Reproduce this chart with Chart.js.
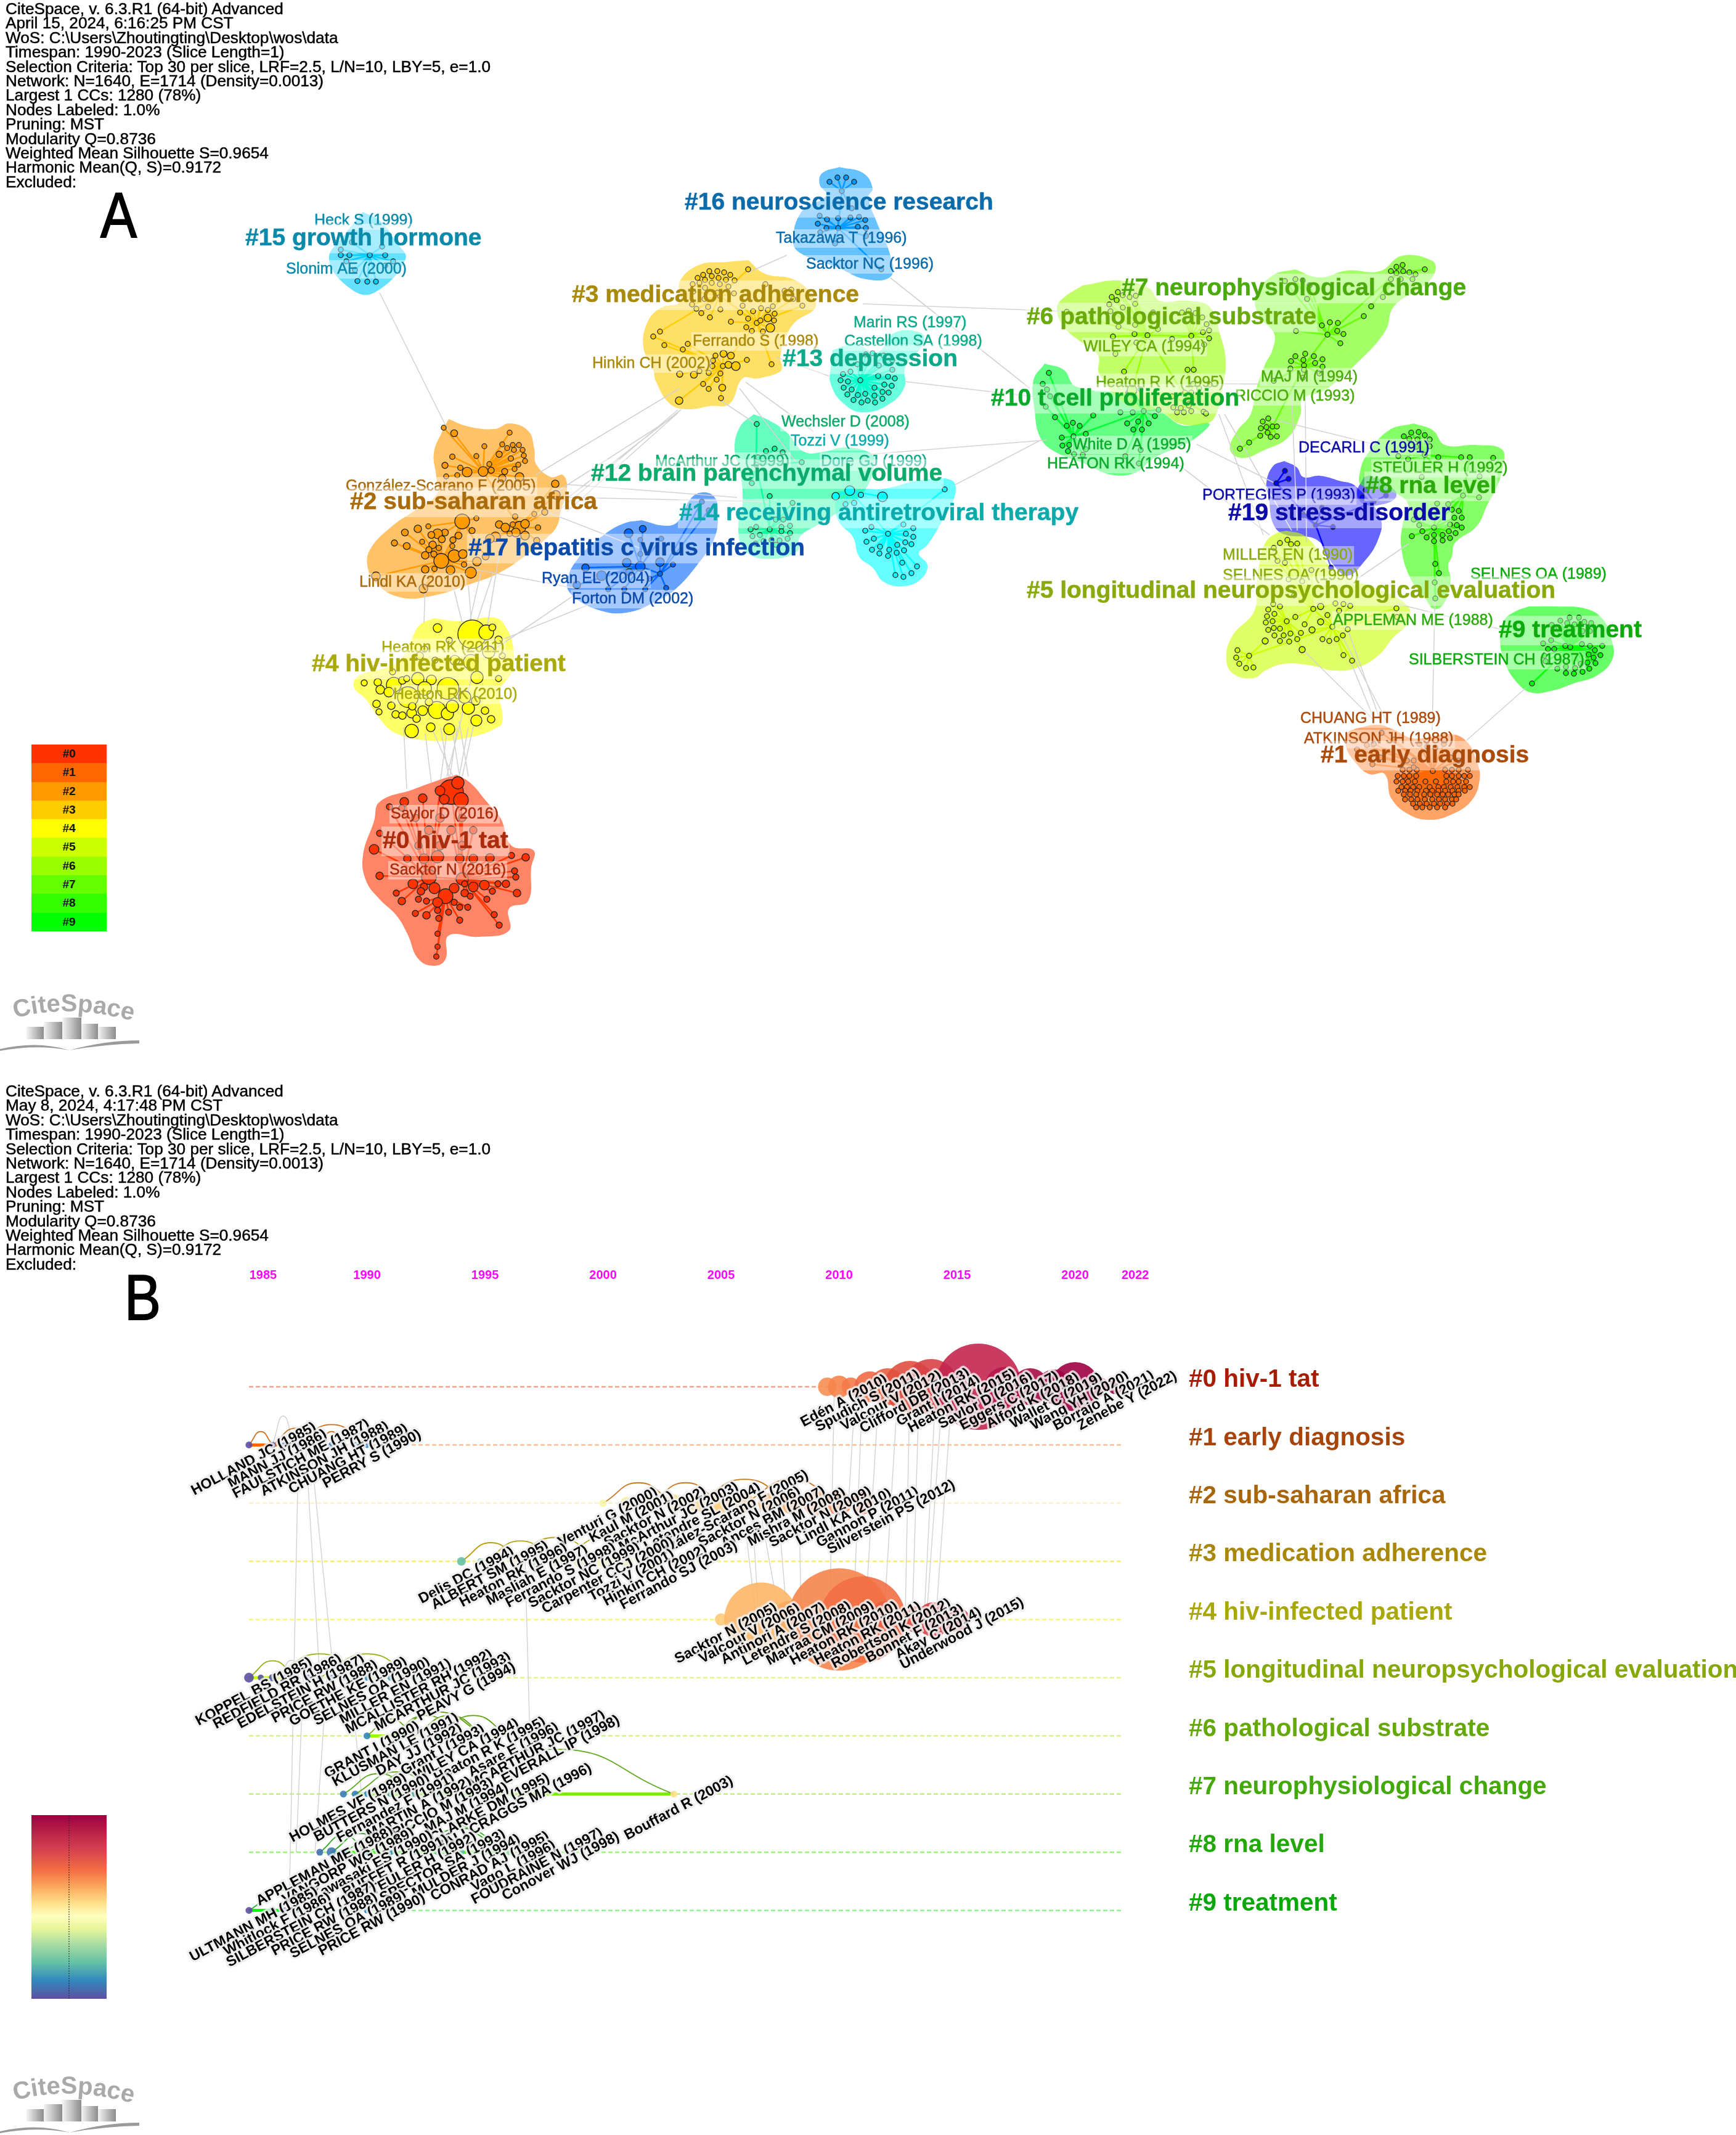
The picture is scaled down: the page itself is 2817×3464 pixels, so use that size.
<!DOCTYPE html>
<html>
<head>
<meta charset="utf-8">
<title>CiteSpace co-citation network and timeline</title>
<script src="https://cdn.jsdelivr.net/npm/chart.js@4/dist/chart.umd.js"></script>
<style>
  html, body { margin: 0; padding: 0; background: #fff; }
  #page { position: relative; width: 2817px; height: 3464px; overflow: hidden; background: #fff; }
  canvas { position: absolute; left: 0; }
  .meta { position: absolute; left: 9px; font: 26.2px/23.4px "Liberation Sans", sans-serif; color: #000; white-space: pre; -webkit-text-stroke: 0.5px #000; }
  .panel { position: absolute; font: 104px "Liberation Sans", sans-serif; color: #000; transform: scaleX(0.85); transform-origin: left top; line-height: 1; -webkit-text-stroke: 2px #000; }
  .legend { position: absolute; left: 51px; top: 1208px; width: 122px; }
  .legend div { height: 30.3px; font: bold 19px/30.3px "Liberation Sans", sans-serif; text-align: center; color: #111; }
  .bar { position: absolute; left: 51px; top: 2945px; width: 122px; height: 298px;
    background: linear-gradient(#9e0142, #d53e4f 18%, #f46d43 30%, #fdae61 40%, #fee08b 48%, #ffffbf 55%, #e6f598 62%, #abdda4 70%, #66c2a5 80%, #3288bd 90%, #5e4fa2); }
  .bar i { position: absolute; left: 60px; top: 0; bottom: 0; border-left: 2px dotted rgba(40,40,40,.55); }
  svg { position: absolute; left: 0; }
</style>
</head>
<body>
<div id="page">
  <canvas id="network" width="2817" height="1750" style="top:0"></canvas>
  <canvas id="timeline" width="2817" height="1419" style="top:2045px"></canvas>
  <div class="panel" style="left:163px;top:297px">A</div>
  <div class="panel" style="left:202px;top:2053px">B</div>
</div>
<script>
const metaLinesA = ['CiteSpace, v. 6.3.R1 (64-bit) Advanced', 'April 15, 2024, 6:16:25 PM CST', 'WoS: C:\\Users\\Zhoutingting\\Desktop\\wos\\data', 'Timespan: 1990-2023 (Slice Length=1)', 'Selection Criteria: Top 30 per slice, LRF=2.5, L/N=10, LBY=5, e=1.0', 'Network: N=1640, E=1714 (Density=0.0013)', 'Largest 1 CCs: 1280 (78%)', 'Nodes Labeled: 1.0%', 'Pruning: MST', 'Modularity Q=0.8736', 'Weighted Mean Silhouette S=0.9654', 'Harmonic Mean(Q, S)=0.9172', 'Excluded:'];
const metaLinesB = metaLinesA.slice();
metaLinesB[1] = 'May 8, 2024, 4:17:48 PM CST';

const legendNames = ['#0', '#1', '#2', '#3', '#4', '#5', '#6', '#7', '#8', '#9'];
const legendColors = ['#ff3300', '#ff6600', '#ff9900', '#ffcc00', '#ffff00', '#ccff00', '#99ff00', '#66ff00', '#33ff00', '#00ff00'];

// ---- Panel A: network layout ([x, y, frequency]) ----
const hull0 = [[741,1257],[763,1270],[790,1301],[812,1327],[830,1372],[866,1380],[862,1408],[857,1462],[826,1474],[826,1510],[777,1520],[728,1518],[723,1556],[705,1567],[679,1556],[661,1515],[643,1485],[616,1459],[594,1429],[589,1388],[607,1332],[616,1301],[670,1281],[714,1265],[741,1257]];
const nodes0 = [[723,1454,23],[696,1423,23],[750,1426,16],[732,1285,64],[743,1270,16],[748,1298,23],[714,1283,10],[721,1297,10],[686,1295,8],[656,1301,8],[632,1309,4],[652,1311,4],[607,1378,10],[616,1352,4],[616,1421,6],[853,1391,6],[830,1388,4],[835,1413,4],[837,1423,4],[839,1449,6],[821,1434,6],[808,1434,4],[799,1446,4],[786,1436,10],[768,1439,10],[754,1434,4],[705,1441,13],[688,1439,6],[670,1434,10],[683,1446,6],[643,1449,4],[652,1462,6],[679,1459,4],[692,1462,4],[710,1464,10],[737,1441,10],[737,1464,4],[754,1449,6],[763,1454,4],[759,1472,4],[790,1459,4],[746,1472,4],[728,1480,4],[710,1477,4],[692,1485,6],[674,1482,4],[712,1490,4],[746,1493,4],[802,1484,4],[810,1501,4],[710,1515,3],[710,1536,3],[708,1552,3],[688,1393,10],[710,1390,16],[746,1393,8],[768,1393,8],[795,1392,8],[661,1393,6],[674,1327,6],[714,1327,8],[750,1327,6],[696,1347,8],[732,1347,8],[768,1347,6],[679,1372,6],[714,1372,8],[750,1372,8]];
const hubs0 = 3;

const hull1 = [[2200,1182],[2236,1176],[2262,1184],[2294,1198],[2352,1191],[2379,1202],[2396,1234],[2401,1265],[2387,1300],[2352,1323],[2321,1330],[2289,1323],[2258,1296],[2247,1256],[2222,1256],[2200,1238],[2184,1211],[2187,1189],[2200,1182]];
const nodes1 = [[2325,1251],[2276,1249],[2287,1249],[2299,1249],[2345,1249],[2356,1249],[2367,1249],[2382,1249],[2268,1259],[2278,1259],[2287,1259],[2298,1259],[2347,1259],[2356,1259],[2367,1259],[2376,1259],[2385,1259],[2266,1268],[2276,1268],[2285,1268],[2296,1268],[2313,1268],[2330,1268],[2347,1268],[2358,1268],[2367,1268],[2379,1268],[2274,1277],[2283,1277],[2293,1277],[2303,1277],[2320,1277],[2334,1277],[2343,1277],[2354,1277],[2365,1277],[2376,1277],[2385,1277],[2269,1283],[2280,1283],[2289,1283],[2300,1283],[2314,1283],[2324,1283],[2334,1283],[2345,1283],[2357,1283],[2367,1283],[2377,1283],[2278,1289],[2288,1289],[2298,1289],[2311,1289],[2321,1289],[2332,1289],[2341,1289],[2350,1289],[2360,1289],[2367,1289],[2280,1297],[2290,1297],[2300,1297],[2312,1297],[2324,1297],[2335,1297],[2345,1297],[2356,1297],[2363,1297],[2293,1304],[2304,1304],[2315,1304],[2327,1304],[2337,1304],[2348,1304],[2357,1304],[2298,1310],[2308,1310],[2320,1310],[2332,1310],[2345,1310],[2303,1207],[2316,1211],[2329,1213],[2343,1207],[2354,1229],[2367,1234],[2294,1245],[2283,1234],[2294,1234],[2202,1216],[2218,1209],[2229,1207],[2242,1189],[2262,1200],[2240,1229],[2227,1240]];
const hubs1 = 1;

const hull2 = [[728,680],[760,692],[803,696],[827,687],[857,699],[867,728],[870,753],[894,774],[914,771],[920,796],[910,828],[904,853],[886,874],[847,906],[807,931],[768,946],[700,967],[649,969],[610,946],[596,917],[602,889],[637,853],[669,831],[708,803],[708,774],[704,735],[718,699],[728,680]];
const nodes2 = [[750,846,23],[716,910,23],[843,856,16],[784,765,10],[720,694],[737,703,5],[827,702],[815,721],[832,722],[842,722],[823,727],[848,730],[850,739],[810,737,4],[834,730],[829,744,3],[852,748],[841,754],[786,724],[734,741,3],[773,740],[722,755,4],[747,759,3],[758,766,10],[794,753],[797,763,4],[819,765,4],[835,761],[724,773],[742,771],[843,774,8],[815,776,6],[901,785,6],[902,803,8],[773,841],[695,854],[678,858,6],[657,864,5],[640,881,4],[660,886,5],[722,864,5],[710,866,10],[700,868,5],[717,875,5],[735,876,4],[744,869,5],[766,861,4],[685,879],[702,884,6],[734,886],[712,889,3],[696,892,4],[690,901,6],[704,899,4],[737,902,16],[751,899,8],[690,924,6],[705,923,3],[731,925,8],[764,929,13],[753,916,3],[810,851,6],[820,856,8],[832,851,3],[852,850,8],[873,856,3],[837,864,8],[827,866,3],[852,869,8],[804,871,10],[871,877,4],[836,838,3],[867,834],[884,831,4],[774,911,8],[788,903,5],[795,874,8],[610,935,8],[687,955,8]];
const hubs2 = 4;

const hull3 = [[1214,422],[1241,444],[1287,453],[1316,476],[1323,499],[1291,522],[1276,545],[1266,581],[1269,600],[1230,614],[1205,614],[1184,655],[1151,659],[1116,664],[1087,655],[1064,618],[1060,600],[1044,563],[1051,522],[1073,499],[1103,490],[1103,457],[1134,430],[1180,425],[1214,422]];
const nodes3 = [[1173,594],[1228,524],[1168,480],[1132,451],[1141,446],[1151,440],[1164,440],[1175,442],[1185,446],[1144,454],[1155,448],[1166,451],[1178,454],[1192,455],[1124,461],[1135,459],[1155,459],[1168,461],[1182,465],[1144,467],[1125,473],[1191,476],[1164,475],[1143,485],[1123,494],[1130,501],[1138,508],[1149,498],[1169,502],[1152,515],[1214,437],[1242,461],[1273,472],[1284,470],[1287,485],[1302,496],[1205,496],[1201,507],[1222,505],[1235,500],[1246,503],[1254,497],[1257,509],[1214,517],[1234,520],[1246,516,6],[1256,520],[1211,531],[1220,537],[1238,538],[1250,532,8],[1186,522],[1060,546],[1071,538],[1078,560],[1108,567],[1116,558],[1161,577],[1174,574,5],[1186,577,5],[1157,585],[1156,594],[1182,592,5],[1194,594,8],[1212,584],[1252,591],[1103,607,4],[1126,608,5],[1135,602],[1150,605],[1169,606],[1163,616],[1141,623],[1150,631],[1172,629,5],[1170,646],[1102,650,6]];
const hubs3 = 3;

const hull4 = [[704,1003],[748,1008],[803,1002],[823,1021],[833,1053],[831,1089],[811,1121],[815,1160],[811,1178],[748,1199],[689,1201],[641,1189],[617,1167],[594,1135],[574,1114],[582,1096],[621,1085],[649,1071],[669,1035],[681,1014],[704,1003]];
const nodes4 = [[766,1029,85],[789,1026,23],[799,1018,5],[710,1019,8],[809,1038,6],[681,1064,6],[706,1071,4],[689,1053,4],[729,1039,4],[793,1058,16],[815,1064,4],[764,1074,23],[738,1071,10],[637,1090,4],[591,1108,4],[613,1107,6],[617,1119,8],[639,1111,23],[653,1104,6],[631,1123,10],[660,1101,4],[678,1101,16],[700,1103,10],[727,1117,50],[774,1099,16],[809,1101,4],[662,1131,45],[689,1117,20],[611,1142,6],[635,1145,6],[615,1155,4],[642,1159,6],[653,1161,6],[668,1157,10],[676,1166,6],[686,1153,10],[709,1152,31],[726,1158,16],[734,1146,16],[760,1149,16],[787,1153,6],[797,1167,6],[773,1169,13],[668,1186,19],[699,1180,8],[729,1183,13],[754,1131,16],[772,1137,8],[669,1146,6],[696,1139,6]];
const hubs4 = 0;

const hull5 = [[2088,861],[2115,868],[2137,890],[2160,921],[2200,943],[2227,952],[2285,984],[2283,1013],[2262,1033],[2236,1064],[2200,1084],[2164,1088],[2129,1080],[2084,1077],[2053,1088],[2035,1100],[2004,1095],[1990,1073],[1999,1033],[2035,992],[2039,948],[2044,912],[2053,881],[2071,865],[2088,861]];
const nodes5 = [[2088,1008],[2131,988],[2162,1017],[2027,1064],[2077,881],[2089,876],[2105,882],[2095,883],[2067,889],[2073,910],[2085,913],[2128,925],[2091,940],[2113,943],[2100,966],[2066,980],[2077,984],[2058,989],[2056,1000],[2068,996],[2054,1010],[2065,1008],[2102,1001],[2117,1013],[2058,1022],[2067,1019],[2077,1020],[2094,1028],[2111,1027],[2068,1031],[2083,1031],[2105,1037],[2077,1040],[2092,1041],[2053,1040,4],[2113,1054,4],[2129,1022,4],[2143,1009,4],[2154,998],[2143,984,4],[2173,991],[2167,979],[2191,983],[2180,980],[2266,987],[2267,1001],[2187,1021],[2179,1031],[2169,1037],[2157,1040],[2146,1037],[2180,1063],[2194,1072],[2008,1055],[2006,1067],[2011,1077],[2022,1084],[2034,1083]];
const hubs5 = 4;

const hull6 = [[1757,463],[1815,455],[1864,467],[1882,488],[1927,488],[1963,498],[1980,543],[1989,587],[1983,633],[1971,677],[1954,688],[1913,687],[1887,670],[1829,657],[1784,607],[1782,577],[1757,557],[1726,530],[1715,500],[1726,483],[1757,463]];
const nodes6 = [[1933,545],[1862,544],[1930,655],[1804,482],[1812,487],[1814,474],[1822,479],[1833,482],[1843,480],[1800,494],[1822,499],[1842,493],[1802,505],[1731,506],[1871,507],[1918,507],[1929,504],[1940,508],[1951,515],[1958,526],[1962,536],[1952,539],[1962,549],[1842,527],[1815,530],[1879,534],[1806,546],[1841,542],[1902,550],[1954,559],[1844,556],[1810,574],[1824,603],[1927,600],[1937,600],[1963,624],[1936,623],[1946,630],[1923,637],[1933,637],[1902,643],[1904,661],[1916,662],[1929,658],[1910,669],[1921,669],[1933,667],[1953,668],[1957,671],[1837,633,10]];
const hubs6 = 3;

const hull7 = [[2101,437],[2141,450],[2186,439],[2239,440],[2275,415],[2324,423],[2329,440],[2311,463],[2262,497],[2248,537],[2204,587],[2150,633],[2114,647],[2110,673],[2090,710],[2052,730],[2016,743],[1996,730],[2007,700],[2029,673],[2038,633],[2052,593],[2065,567],[2067,540],[2043,513],[2038,480],[2065,447],[2101,437]];
const nodes7 = [[2266,443],[2154,543],[2116,593],[2065,692],[2257,440],[2266,433],[2276,430],[2277,440],[2287,442],[2297,445],[2312,437],[2257,453],[2273,453],[2292,453],[2244,482],[2225,497],[2213,513],[2085,456],[2102,453],[2114,455],[2125,463],[2121,485],[2103,537],[2145,528],[2158,523],[2171,524],[2170,537],[2180,542],[2175,557],[2102,578],[2118,574],[2132,578],[2095,586],[2115,584],[2134,589],[2146,583],[2146,595],[2141,606],[2116,600],[2094,598],[2114,613],[2067,618],[2058,679],[2049,684],[2072,692],[2046,695],[2055,693],[2057,702],[2045,707],[2062,709],[2072,708],[2027,718],[2012,728]];
const hubs7 = 4;

const hull8 = [[2294,687],[2325,698],[2345,722],[2396,722],[2437,729],[2439,756],[2428,792],[2414,818],[2396,854],[2361,881],[2356,903],[2350,917],[2354,943],[2343,979],[2327,988],[2312,970],[2289,939],[2274,890],[2276,850],[2285,818],[2254,796],[2209,787],[2207,765],[2218,738],[2254,698],[2294,687]];
const nodes8 = [[2327,856],[2374,804],[2312,738],[2278,708],[2290,702],[2302,701],[2312,706],[2287,712],[2300,713],[2320,713],[2320,724],[2298,725],[2269,740],[2285,745],[2334,742],[2371,742],[2385,742],[2423,743],[2307,774],[2401,773],[2400,807],[2332,817],[2350,818],[2356,827],[2367,829],[2360,840],[2372,840],[2353,851],[2364,852],[2372,856],[2351,862],[2362,865],[2353,873],[2341,868],[2341,877],[2327,878],[2327,868],[2315,872],[2308,862],[2291,870],[2303,852],[2294,843],[2329,915],[2335,930],[2328,945],[2329,971]];
const hubs8 = 3;

const hull9 = [[2481,984],[2526,984],[2575,988],[2602,1006],[2615,1037],[2617,1068],[2593,1095],[2553,1109],[2521,1120],[2486,1124],[2463,1109],[2441,1073],[2434,1033],[2441,1006],[2459,992],[2481,984]];
const nodes9 = [[2548,1050],[2486,1109],[2547,1002],[2562,1002],[2532,1007],[2543,1011],[2555,1013],[2571,1009],[2582,1011],[2518,1014],[2529,1018],[2568,1024],[2580,1024],[2517,1039],[2504,1044],[2512,1053],[2522,1053],[2540,1048],[2567,1045],[2580,1048],[2600,1048],[2588,1055],[2597,1063],[2578,1062],[2586,1067],[2576,1075],[2589,1076],[2565,1077],[2579,1085],[2568,1090],[2556,1084],[2541,1082],[2527,1085],[2541,1092],[2554,1093],[2506,1064],[2508,1073]];
const hubs9 = 1;

const hull10 = [[1695,590],[1726,600],[1746,627],[1829,640],[1887,670],[1918,690],[1962,687],[1945,707],[1918,723],[1873,743],[1842,767],[1802,770],[1762,753],[1712,733],[1688,710],[1679,667],[1677,617],[1695,590]];
const nodes10 = [[1742,708],[1856,667],[1702,605],[1692,623],[1699,632],[1704,643],[1697,660],[1712,677],[1774,674],[1731,691],[1741,686],[1752,691],[1762,704],[1723,710],[1724,723],[1735,722],[1733,732],[1743,737],[1757,738],[1762,729],[1831,637],[1851,632],[1840,635],[1818,669],[1838,669],[1880,665],[1874,675],[1829,687],[1847,684],[1864,687],[1839,697],[1853,697],[1851,730],[1826,740],[1848,752]];
const hubs10 = 2;

const hull12 = [[1223,672],[1248,682],[1276,701],[1305,733],[1337,733],[1369,726],[1409,733],[1419,747],[1405,793],[1369,825],[1326,852],[1298,871],[1294,894],[1248,907],[1209,894],[1198,857],[1205,816],[1201,765],[1192,728],[1201,692],[1223,672]];
const nodes12 = [[1249,859],[1227,754],[1228,688],[1243,732],[1257,728],[1270,734],[1230,742],[1301,750],[1220,784],[1249,805],[1286,816],[1218,859],[1227,855],[1221,870],[1233,868],[1268,855],[1282,853],[1268,862],[1282,865],[1278,874],[1265,877],[1252,876],[1239,878],[1226,882],[1259,843],[1271,843],[1259,884]];
const hubs12 = 2;

const hull13 = [[1351,568],[1387,558],[1423,572],[1451,540],[1494,540],[1498,558],[1469,595],[1468,627],[1444,655],[1401,669],[1369,655],[1348,623],[1348,595],[1351,568]];
const nodes13 = [[1396,617],[1368,607],[1380,603],[1364,617],[1376,619],[1425,610],[1441,611],[1452,614],[1435,624],[1447,626],[1369,629],[1382,632],[1419,629],[1432,636],[1442,637],[1375,640],[1392,641],[1404,639],[1419,642],[1432,647],[1385,649],[1408,650],[1398,653],[1420,653],[1405,575],[1416,573],[1434,577],[1448,584],[1426,593],[1448,600],[1391,591]];
const hubs13 = 1;

const hull14 = [[1359,797],[1405,793],[1434,793],[1494,779],[1544,779],[1550,802],[1530,843],[1505,884],[1491,898],[1505,917],[1494,940],[1466,951],[1434,944],[1416,921],[1394,903],[1384,871],[1362,848],[1355,820],[1359,797]];
const nodes14 = [[1441,866],[1379,796,10],[1356,805,6],[1397,803,3],[1432,806,10],[1533,794],[1372,818],[1386,816,3],[1404,861],[1414,855],[1418,874],[1406,879],[1415,892],[1428,887],[1427,898],[1443,892],[1441,902],[1456,884],[1455,897],[1469,880],[1479,883],[1467,893],[1470,866],[1482,871],[1482,857],[1466,851],[1464,913],[1488,919],[1479,930],[1466,936],[1453,933]];
const hubs14 = 2;

const hull15 = [[589,344],[616,358],[643,393],[658,421],[607,475],[571,470],[534,421],[560,380],[589,344]];
const nodes15 = [[600,414],[553,405],[567,414],[553,414],[571,393],[625,414],[638,424],[625,431],[580,456],[596,457],[610,457],[562,424],[576,438],[620,400]];
const hubs15 = 1;

const hull16 = [[1362,271],[1401,281],[1416,306],[1409,320],[1423,361],[1444,412],[1446,448],[1405,453],[1359,434],[1301,412],[1287,393],[1301,343],[1341,317],[1330,299],[1334,281],[1362,271]];
const nodes16 = [[1360,370],[1366,310],[1346,295],[1359,288],[1373,288],[1386,295],[1330,350],[1342,356],[1360,354],[1380,353],[1394,352],[1404,357],[1327,363],[1341,370],[1392,368],[1405,370],[1331,377],[1382,338],[1355,395],[1405,383],[1430,437]];
const hubs16 = 2;

const hull17 = [[1041,844],[1080,853],[1100,846],[1120,810],[1139,799],[1159,806],[1165,831],[1159,874],[1131,917],[1096,956],[1068,974],[1017,994],[969,989],[930,967],[920,946],[938,906],[981,867],[1013,849],[1041,844]];
const nodes17 = [[1039,919,10],[1071,931],[1020,865,8],[1043,858,5],[1039,876],[1073,874],[1139,814],[1150,828],[1039,899],[1092,916],[1017,913,8],[1071,912,8],[950,921,6],[976,934,10],[936,949,6],[987,956],[1013,956],[1047,956],[1081,954],[1021,928,5],[1054,939]];
const hubs17 = 2;

const hull19 = [[2084,748],[2104,758],[2115,774],[2142,772],[2173,780],[2200,789],[2240,841],[2236,876],[2213,912],[2187,934],[2164,917],[2137,876],[2084,867],[2066,850],[2059,809],[2055,783],[2066,756],[2084,748]];
const hull19b = [[2213,774],[2227,772],[2262,794],[2265,807],[2245,818],[2213,818],[2202,800],[2213,774]];
const nodes19 = [[2071,784],[2135,852],[2229,814],[2085,764],[2091,777],[2216,795],[2211,807],[2249,804],[2163,855],[2145,824],[2115,836],[2160,921]];
const hubs19 = 3;

const networkClusters = [
  { id: 0, rgb: [255, 51, 0], hull: hull0, nodes: nodes0, hubs: hubs0 },
  { id: 1, rgb: [255, 102, 0], hull: hull1, nodes: nodes1, hubs: hubs1 },
  { id: 2, rgb: [255, 153, 0], hull: hull2, nodes: nodes2, hubs: hubs2 },
  { id: 3, rgb: [255, 204, 0], hull: hull3, nodes: nodes3, hubs: hubs3 },
  { id: 4, rgb: [255, 255, 0], hull: hull4, nodes: nodes4, hubs: hubs4 },
  { id: 5, rgb: [204, 255, 0], hull: hull5, nodes: nodes5, hubs: hubs5 },
  { id: 6, rgb: [153, 255, 0], hull: hull6, nodes: nodes6, hubs: hubs6 },
  { id: 7, rgb: [102, 255, 0], hull: hull7, nodes: nodes7, hubs: hubs7 },
  { id: 8, rgb: [51, 255, 0], hull: hull8, nodes: nodes8, hubs: hubs8 },
  { id: 9, rgb: [0, 255, 0], hull: hull9, nodes: nodes9, hubs: hubs9 },
  { id: 10, rgb: [0, 255, 51], hull: hull10, nodes: nodes10, hubs: hubs10 },
  { id: 12, rgb: [0, 255, 153], hull: hull12, nodes: nodes12, hubs: hubs12 },
  { id: 13, rgb: [0, 255, 204], hull: hull13, nodes: nodes13, hubs: hubs13 },
  { id: 14, rgb: [0, 255, 255], hull: hull14, nodes: nodes14, hubs: hubs14 },
  { id: 15, rgb: [0, 204, 255], hull: hull15, nodes: nodes15, hubs: hubs15 },
  { id: 16, rgb: [0, 153, 255], hull: hull16, nodes: nodes16, hubs: hubs16 },
  { id: 17, rgb: [0, 102, 255], hull: hull17, nodes: nodes17, hubs: hubs17 },
  { id: 19, rgb: [0, 0, 255], hull: hull19, nodes: nodes19, hubs: hubs19 },
  { id: 19, rgb: [0, 0, 255], hull: hull19b, nodes: [], hubs: 0 },
];

// grey links between clusters
const networkLinks = [[616,475,728,700],[870,770,1103,630],[900,800,1095,675],[905,830,1100,665],[912,815,1105,665],[920,830,1100,670],[690,950,688,1010],[735,950,750,1010],[760,950,765,1010],[780,930,755,1040],[800,930,770,1020],[810,900,790,1020],[860,820,1040,890],[750,920,936,955],[970,975,810,1040],[940,960,800,1055],[655,1180,660,1280],[690,1190,700,1270],[700,1180,735,1260],[715,1180,728,1260],[735,1190,745,1255],[745,1170,760,1260],[765,1100,725,1260],[760,1180,745,1260],[770,1170,750,1260],[725,1190,715,1265],[742,1180,730,1260],[1200,630,1300,760],[1170,650,1230,690],[1210,620,1320,700],[1260,580,1345,610],[1277,414,1214,442],[1445,451,1671,630],[1400,493,1725,505],[1468,619,1680,644],[1549,787,1689,714],[1400,738,1698,714],[920,786,1196,807],[920,807,1250,814],[1978,672,2050,868],[1987,672,2096,861],[1906,749,2060,868],[1942,721,2069,784],[2096,644,2105,861],[2060,679,2231,721],[2114,1054,2231,1170],[2177,1030,2250,1170],[2191,1072,2231,1170],[2185,1016,2240,1170],[2329,945,2324,1184],[2475,1117,2380,1201],[2268,980,2439,1022],[2204,938,2286,882],[1978,623,2055,623],[2118,644,2120,880]];

const clusterLabels = [['#15 growth hormone',398,387,15],['#16 neuroscience research',1111,329,16],['#3 medication adherence',928,479,3],['#7 neurophysiological change',1820,468,7],['#6 pathological substrate',1666,515,6],['#13 depression',1270,583,13],['#10 t cell proliferation',1608,647,10],['#12 brain parenchymal volume',959,769,12],['#2 sub-saharan africa',568,815,2],['#8 rna level',2216,789,8],['#19 stress-disorder',1993,833,19],['#14 receiving antiretroviral therapy',1102,833,14],['#17 hepatitis c virus infection',760,890,17],['#5 longitudinal neuropsychological evaluation',1666,959,5],['#9 treatment',2432,1023,9],['#4 hiv-infected patient',506,1078,4],['#1 early diagnosis',2143,1226,1],['#0 hiv-1 tat',621,1365,0]];
const nodeLabels = [['Heck S (1999)',510,358,15],['Slonim AE (2000)',464,437,15],['Takazawa T (1996)',1259,387,16],['Sacktor NC (1996)',1308,429,16],['Marin RS (1997)',1385,524,13],['Castellon SA (1998)',1370,554,13],['Ferrando S (1998)',1124,554,3],['Hinkin CH (2002)',961,590,3],['WILEY CA (1994)',1758,563,6],['Heaton R K (1995)',1778,621,6],['MAJ M (1994)',2046,612,7],['RICCIO M (1993)',2004,643,7],['Wechsler D (2008)',1268,685,12],['Tozzi V (1999)',1283,716,14],['McArthur JC (1999)',1063,749,12],['Dore GJ (1999)',1332,749,13],['White D A (1995)',1741,722,10],['HEATON RK (1994)',1699,753,10],['DECARLI C (1991)',2107,727,19],['STEULER H (1992)',2227,760,8],['González-Scarano F (2005)',561,789,2],['PORTEGIES P (1993)',1951,804,19],['MILLER EN (1990)',1984,901,5],['SELNES OA (1990)',1984,934,5],['SELNES OA (1989)',2386,932,9],['Ryan EL (2004)',879,939,17],['Lindl KA (2010)',583,945,2],['Forton DM (2002)',928,972,17],['APPLEMAN ME (1988)',2163,1007,8],['Heaton RK (2011)',619,1051,4],['SILBERSTEIN CH (1987)',2286,1071,9],['Heaton RK (2010)',638,1127,4],['CHUANG HT (1989)',2110,1166,1],['ATKINSON JH (1988)',2116,1199,1],['Saylor D (2016)',634,1321,0],['Sacktor N (2016)',632,1412,0]];

// ---- Panel B: timeline ----
const yearTickLabels = ['1985', '1990', '1995', '2000', '2005', '2010', '2015', '2020', '2022'];
const yearTickValues = [1985.6, 1990, 1995, 2000, 2005, 2010, 2015, 2020, 2022.55];   // first and last label sit inside the axis
const rowNames = ['#0 hiv-1 tat', '#1 early diagnosis', '#2 sub-saharan africa', '#3 medication adherence', '#4 hiv-infected patient', '#5 longitudinal neuropsychological evaluation', '#6 pathological substrate', '#7 neurophysiological change', '#8 rna level', '#9 treatment'];
const rowNameColors = ['#a81c04', '#a8430a', '#a8650a', '#a8870a', '#a8a80a', '#87a80a', '#65a80a', '#43a80a', '#22a80a', '#0aa80a'];
const rowDashColors = ['#f8a088', '#f7b990', '#fdf3c8', '#f8ef70', '#f6f570', '#e4f68a', '#d2f080', '#c4f07a', '#9cf27c', '#88f088'];
const rowBarColors = ['#ff3300', '#ff6600', '#ff9900', '#ffcc00', '#ffff00', '#ccff00', '#99ff00', '#77ee00', '#33ff00', '#00ff00'];
const rowArcColors = ['#c04020', '#c8701e', '#c8781e', '#b8a010', '#a8a80a', '#8fb010', '#5fa010', '#5fa820', '#30a820', '#20a820'];

const row0Names = ['Edén A (2010)', 'Spudich S (2011)', 'Valcour V (2012)', 'Clifford DB (2013)', 'Grant I (2014)', 'Heaton RK (2015)', 'Saylor D (2016)', 'Eggers C (2017)', 'Alford K (2018)', 'Wallet C (2019)', 'Wang YH (2020)', 'Borrajo A (2021)', 'Zenebe Y (2022)'];
const row1Names = ['HOLLAND JC (1985)', 'MANN JJ (1986)', 'FAULSTICH ME (1987)', 'ATKINSON JH (1988)', 'CHUANG HT (1989)', 'PERRY S (1990)'];
const row2Names = ['Venturi G (2000)', 'Kaul M (2001)', 'Sacktor N (2002)', 'McArthur JC (2003)', 'Letendre SL (2004)', 'González-Scarano F (2005)', 'Sacktor N (2006)', 'Ances BM (2007)', 'Mishra M (2008)', 'Sacktor N (2009)', 'Lindl KA (2010)', 'Gannon P (2011)', 'Silverstein PS (2012)'];
const row3Names = ['Delis DC (1994)', 'ALBERT SM (1995)', 'Heaton RK (1996)', 'Masliah E (1997)', 'Ferrando S (1998)', 'Sacktor NC (1999)', 'Carpenter CCJ (2000)', 'Tozzi V (2001)', 'Hinkin CH (2002)', 'Ferrando SJ (2003)'];
const row4Names = ['Sacktor N (2005)', 'Valcour V (2006)', 'Antinori A (2007)', 'Letendre S (2008)', 'Marraa CM (2009)', 'Heaton RK (2010)', 'Heaton RK (2011)', 'Robertson K (2012)', 'Bonnet F (2013)', 'Akay C (2014)', 'Underwood J (2015)'];
const row5Names = ['KOPPEL BS (1985)', 'REDFIELD RR (1986)', 'EDELSTEIN H (1987)', 'PRICE RW (1988)', 'GOETHE KE (1989)', 'SELNES OA (1990)', 'MILLER EN (1991)', 'MCALLISTER RH (1992)', 'MCARTHUR JC (1993)', 'PEAVY G (1994)'];
const row6Names = ['GRANT I (1990)', 'KLUSMAN LE (1991)', 'DAY JJ (1992)', 'Grant I (1993)', 'WILEY CA (1994)', 'Heaton R K (1995)', 'Asare E (1996)', 'MCARTHUR JC (1997)', 'EVERALL IP (1998)'];
const row7Names = ['HOLMES VF (1989)', 'BUTTERS N (1990)', 'Fernandez F (1991)', 'MARTIN A (1992)', 'RICCIO M (1993)', 'MAJ M (1994)', 'CLARKE DM (1995)', 'HALLCRAGGS MA (1996)', 'Bouffard R (2003)'];
const row8Names = ['APPLEMAN ME (1988)', 'VANGORP WG (1989)', 'Kawasaki ES (1990)', 'BUFFET R (1991)', 'STEULER H (1992)', 'SPECTOR SA (1993)', 'MULDER J (1994)', 'CONRAD AJ (1995)', 'Vago L (1996)', 'FOUDRAINE N (1997)', 'Conover WJ (1998)'];
const row9Names = ['ULTMANN MH (1985)', 'Whitlock F (1986)', 'SILBERSTEIN CH (1987)', 'PRICE RW (1988)', 'SELNES OA (1989)', 'PRICE RW (1990)'];
const rowLabelSets = [row0Names, row1Names, row2Names, row3Names, row4Names, row5Names, row6Names, row7Names, row8Names, row9Names];

const row0Years = [2009.5, 2010, 2010.5, 2011.3, 2012.05, 2013, 2013.9, 2015.9, 2017, 2018.1, 2019.1, 2020, 2021, 2021.7];
const row0Freq = [36, 52, 36, 100, 144, 282, 324, 784, 164, 144, 125, 256, 41, 23];
const row1Years = [1985, 1986, 1986.5, 1987, 1987.5, 1988.5, 1989, 1989.5, 1990];
const row1Freq = [5, 4, 4, 4, 4, 4, 4, 4, 4];
const row2Years = [2000, 2001, 2002, 2003, 2004, 2005, 2006, 2007, 2008, 2009, 2010, 2011];
const row2Freq = [6, 16, 23, 31, 31, 41, 41, 41, 52, 64, 64, 52];
const row3Years = [1994, 1994.8, 1997, 1998, 1999, 2000, 2001, 2002, 2003];
const row3Freq = [8, 4, 8, 10, 16, 16, 16, 13, 8];
const row4Years = [2005, 2006.7, 2007.9, 2010, 2011, 2012, 2013.3, 2014, 2015];
const row4Freq = [16, 576, 144, 1102, 784, 144, 77, 125, 64];
const row5Years = [1985, 1985.5, 1986, 1986.5, 1987, 1987.5, 1988, 1988.5, 1989, 1989.5, 1990, 1991, 1991.5, 1992, 1993];
const row5Freq = [10, 4, 6, 4, 4, 4, 4, 4, 4, 4, 4, 4, 4, 4, 4];
const row6Years = [1990, 1991.5, 1993, 1994, 1995, 1996];
const row6Freq = [5, 4, 4, 4, 4, 4];
const row7Years = [1989, 1989.5, 1990, 1991, 1992, 1993, 1994, 1995, 2003];
const row7Freq = [5, 5, 4, 4, 4, 4, 4, 4, 5];
const row8Years = [1988, 1988.5, 1989, 1990, 1991, 1992, 1993, 1994, 1995, 1996];
const row8Freq = [5, 10, 5, 4, 4, 4, 4, 4, 4, 4];
const row9Years = [1985, 1986, 1986.5, 1987, 1989, 1990];
const row9Freq = [5, 4, 4, 4, 4, 4];
const rowYearSets = [row0Years, row1Years, row2Years, row3Years, row4Years, row5Years, row6Years, row7Years, row8Years, row9Years];
const rowFreqSets = [row0Freq, row1Freq, row2Freq, row3Freq, row4Freq, row5Freq, row6Freq, row7Freq, row8Freq, row9Freq];

// burst bars along a row: [row, from, to]
const rowBars = [[1, 1985, 1986.2], [5, 1985, 1986.5], [6, 1990, 1991.5], [7, 1989.5, 2003], [8, 1988.5, 1996], [9, 1985, 1986.5]];
// arcs inside a row: [row, from, to]
const rowArcs = [[1,1985,1986],[1,1986,1988],[1,1988,1989],[1,1987,1990],[2,2000,2003],[2,2002,2005],[2,2004,2008],[2,2006,2010],[3,1994,1996.5],[3,1995,1998],[3,1996,2000],[3,1998,2003],[5,1985,1987],[5,1986,1990],[5,1988,1992],[6,1990,1992],[6,1991,1994],[6,1992,1995],[6,1993,1996],[6,1991,1995],[7,1989,1992],[7,1989.5,1993],[7,1990,1994],[7,1993,2003],[8,1988,1990],[8,1988.5,1991],[8,1989,1993],[8,1990,1996],[8,1992,1996],[9,1985,1988]];
// grey links between rows: [fromYear, fromRow, toYear, toRow]
const rowLinks = [[2009.8,0,2009.6,4],[2010.7,0,2010.4,2],[2011,0,2010.6,4],[2011.7,0,2011.1,4],[2012.5,0,2011.9,4],[2013,0,2012.8,4],[2013.4,0,2013.1,4],[2014.1,0,2013.6,4],[2014.4,0,2013.7,4],[2014.8,0,2014.1,4],[2005.9,2,2006.5,4],[2006.3,2,2006.6,4],[2006.6,2,2007.5,4],[2007.4,2,2007.8,4],[2008.3,2,2008.4,4],[1987.1,1,1986.7,9],[1987.4,1,1988,5],[1987.6,1,1988.6,5],[1996.7,3,1996.9,6],[1987.3,5,1987,8],[1988.3,5,1987.8,8],[1989.3,5,1990,8]];
// grey loops: [row, from, to, rise in rows]
const greyLoops = [[1,1986,1986.9,0.5],[5,1986.3,1987.3,0.3]];

// ---- helpers ----
function rgba(rgb, a) { return `rgba(${rgb[0]},${rgb[1]},${rgb[2]},${a})`; }
function darken(rgb) { return `rgb(${rgb.map(v => Math.round(v * 0.62 + 12)).join(',')})`; }
function freqRadius(freq) { return 2.5 * Math.sqrt(freq); }
function gapped(segments) {
  const pts = [];
  segments.forEach(s => pts.push({ x: s[0], y: s[1] }, { x: s[2], y: s[3] }, { x: NaN, y: NaN }));
  return pts;
}

// each plain node hangs off its nearest hub, hubs are chained
function clusterEdges(cluster) {
  const segs = [];
  const hubs = cluster.nodes.slice(0, cluster.hubs);
  hubs.forEach((h, i) => { if (i > 0) segs.push([hubs[i - 1][0], hubs[i - 1][1], h[0], h[1]]); });
  if (!hubs.length) return segs;
  cluster.nodes.slice(cluster.hubs).forEach(n => {
    let best = hubs[0], bestD = Infinity;
    hubs.forEach(h => {
      const d = Math.hypot(h[0] - n[0], h[1] - n[1]);
      if (d < bestD) { bestD = d; best = h; }
    });
    segs.push([best[0], best[1], n[0], n[1]]);
  });
  return segs;
}

// Spectral ramp of the time slices
const yearStops = [[1985,'#5e4fa2'],[1990,'#3288bd'],[1994,'#66c2a5'],[1997,'#abdda4'],[2000,'#f5f5a8'],[2003,'#fee08b'],[2006,'#fdc06e'],[2009,'#f89a56'],[2011,'#f26f44'],[2013,'#e0503f'],[2015.5,'#c92a52'],[2019,'#9e0142'],[2022,'#9e0142']];
function yearColor(year, alpha) {
  let i = 0;
  while (i < yearStops.length - 2 && year > yearStops[i + 1][0]) i++;
  const a = yearStops[i], b = yearStops[i + 1];
  const t = Math.max(0, Math.min(1, (year - a[0]) / (b[0] - a[0])));
  const hex = (c, p) => parseInt(c.substr(p, 2), 16);
  const ch = p => Math.round(hex(a[1], p) + (hex(b[1], p) - hex(a[1], p)) * t);
  return `rgba(${ch(1)},${ch(3)},${ch(5)},${alpha})`;
}

// ---- static page parts ----
const page = document.getElementById('page');
function addMeta(lines, top) {
  const el = document.createElement('div');
  el.className = 'meta';
  el.style.top = top + 'px';
  el.textContent = lines.join('\n');
  page.appendChild(el);
}
addMeta(metaLinesA, 3);
addMeta(metaLinesB, 1759);

const legend = document.createElement('div');
legend.className = 'legend';
legendNames.forEach((name, i) => {
  const cell = document.createElement('div');
  cell.textContent = name;
  cell.style.background = legendColors[i];
  legend.appendChild(cell);
});
page.appendChild(legend);

const bar = document.createElement('div');
bar.className = 'bar';
bar.innerHTML = '<i></i>';
page.appendChild(bar);

function addLogo(top, key) {
  page.insertAdjacentHTML('beforeend', `
  <svg width="240" height="100" style="top:${top}px">
    <defs><linearGradient id="fade${key}"><stop offset="0" stop-color="#f4f4f4"/><stop offset="1" stop-color="#8c8c8c"/></linearGradient></defs>
    <path id="curve${key}" d="M24 42 Q110 18 214 46" fill="none"/>
    <text font-family="Liberation Sans" font-weight="bold" font-size="40" fill="#a9a9a9"><textPath href="#curve${key}">CiteSpace</textPath></text>
    <rect x="43" y="56" width="28" height="20" fill="url(#fade${key})"/>
    <rect x="71" y="48" width="30" height="28" fill="url(#fade${key})"/>
    <rect x="101" y="41" width="31" height="35" fill="url(#fade${key})"/>
    <rect x="132" y="51" width="27" height="25" fill="url(#fade${key})"/>
    <rect x="159" y="56" width="29" height="20" fill="url(#fade${key})"/>
    <path d="M0 92 Q60 78 113 94 Q170 78 226 78 L226 83 Q170 84 113 94 Q60 84 0 95 Z" fill="#9a9a9a"/>
  </svg>`);
}
addLogo(1610, 'a');
addLogo(3366, 'b');

// ---- Panel A chart ----
const networkDatasets = [];
networkClusters.forEach(c => {
  networkDatasets.push({
    data: c.hull.map(p => ({ x: p[0], y: p[1] })),
    showLine: true, fill: 'shape', tension: 0.42, borderWidth: 0, pointRadius: 0,
    backgroundColor: rgba(c.rgb, 0.6), order: 40,
  });
  networkDatasets.push({
    data: gapped(clusterEdges(c)), showLine: true, tension: 0, pointRadius: 0,
    borderColor: rgba(c.rgb, 0.95), borderWidth: 2.6, order: 20,
  });
  networkDatasets.push({
    data: c.nodes.map(n => ({ x: n[0], y: n[1] })),
    pointRadius: c.nodes.map(n => freqRadius(n[2] || 2.6)),
    pointBackgroundColor: rgba(c.rgb, 1),
    pointBorderColor: '#1f1f1f', pointBorderWidth: 1.3, showLine: false, order: 10,
  });
});
networkDatasets.push({
  data: gapped(networkLinks), showLine: true, tension: 0, pointRadius: 0,
  borderColor: '#d3d3d3', borderWidth: 1.6, order: 30,
});

const clusterRgb = {};
networkClusters.forEach(c => { clusterRgb[c.id] = c.rgb; });

const networkLabelPlugin = {
  id: 'networkLabels',
  afterDatasetsDraw(chart) {
    const { ctx, scales: { x, y } } = chart;
    ctx.save();
    ctx.textBaseline = 'middle';
    ctx.lineWidth = 0.5;
    const drawSet = (list, font, h) => list.forEach(([text, lx, ly, id]) => {
      ctx.font = font;
      const px = x.getPixelForValue(lx), py = y.getPixelForValue(ly);
      const w = ctx.measureText(text).width;
      ctx.fillStyle = 'rgba(255,255,255,0.42)';
      ctx.fillRect(px - 2, py - h / 2, w + 4, h);
      ctx.fillStyle = ctx.strokeStyle = darken(clusterRgb[id]);
      ctx.fillText(text, px, py);
      ctx.strokeText(text, px, py);
    });
    drawSet(nodeLabels, '25px "Liberation Sans"', 30);
    drawSet(clusterLabels, 'bold 39px "Liberation Sans"', 48);
    ctx.restore();
  }
};

new Chart(document.getElementById('network'), {
  type: 'scatter',
  data: { datasets: networkDatasets },
  plugins: [networkLabelPlugin],
  options: {
    responsive: false, animation: false, devicePixelRatio: 1,
    layout: { padding: 0, autoPadding: false },
    plugins: { legend: { display: false }, tooltip: { enabled: false } },
    scales: {
      x: { type: 'linear', display: false, min: 0, max: 2817 },
      y: { type: 'linear', display: false, min: 0, max: 1750, reverse: true },
    },
  },
});

// ---- Panel B chart ----
const timelineDatasets = [];
rowNames.forEach((name, r) => {
  timelineDatasets.push({
    data: [{ x: 1985, y: r }, { x: 2022, y: r }], showLine: true, pointRadius: 0,
    borderColor: rowDashColors[r], borderWidth: 2.4, borderDash: [7, 4], order: 60,
  });
  timelineDatasets.push({
    data: rowYearSets[r].map(v => ({ x: v, y: r })), showLine: false,
    pointRadius: rowFreqSets[r].map(freqRadius),
    pointBackgroundColor: rowYearSets[r].map(v => yearColor(v, 0.9)),
    pointBorderWidth: 0, order: 10, clip: false,
  });
  timelineDatasets.push({
    data: gapped(rowBars.filter(b => b[0] === r).map(b => [b[1], r, b[2], r])),
    showLine: true, pointRadius: 0, tension: 0, borderColor: rowBarColors[r], borderWidth: 5, order: 30,
  });
  const arcPts = [];
  rowArcs.filter(a => a[0] === r).forEach(a => {
    const rise = 0.17 + 0.06 * (a[2] - a[1]);
    arcPts.push({ x: a[1], y: r }, { x: (a[1] + a[2]) / 2, y: r - rise }, { x: a[2], y: r }, { x: NaN, y: NaN });
  });
  timelineDatasets.push({
    data: arcPts, showLine: true, pointRadius: 0, tension: 0.5, borderColor: rowArcColors[r], borderWidth: 1.8, order: 20,
  });
});
timelineDatasets.push({
  data: gapped(rowLinks), showLine: true, pointRadius: 0, tension: 0, borderColor: '#d2d2d2', borderWidth: 1.4, order: 50,
});
const loopPts = [];
greyLoops.forEach(a => {
  loopPts.push({ x: a[1], y: a[0] }, { x: (a[1] + a[2]) / 2, y: a[0] - a[3] }, { x: a[2], y: a[0] }, { x: NaN, y: NaN });
});
timelineDatasets.push({
  data: loopPts, showLine: true, pointRadius: 0, tension: 0.5, borderColor: '#cfcfcf', borderWidth: 1.4, order: 50,
});

const timelineLabelPlugin = {
  id: 'timelineLabels',
  afterDatasetsDraw(chart) {
    const { ctx, scales: { x, y } } = chart;
    ctx.save();
    ctx.font = 'bold 23.5px "Liberation Sans"';
    ctx.textAlign = 'center';
    ctx.textBaseline = 'middle';
    ctx.lineJoin = 'round';
    rowLabelSets.forEach((names, r) => {
      names.forEach(name => {
        const year = parseInt(name.match(/\((\d{4})\)/)[1], 10);
        ctx.save();
        ctx.translate(x.getPixelForValue(year) + 8, y.getPixelForValue(r) + 23);
        ctx.rotate(-28 * Math.PI / 180);
        ctx.strokeStyle = 'rgba(238,238,238,0.82)';
        ctx.lineWidth = 7;
        ctx.strokeText(name, 0, 0);
        ctx.fillStyle = '#000';
        ctx.fillText(name, 0, 0);
        ctx.restore();
      });
    });
    ctx.restore();
  }
};

new Chart(document.getElementById('timeline'), {
  type: 'scatter',
  data: { datasets: timelineDatasets },
  plugins: [timelineLabelPlugin],
  options: {
    responsive: false, animation: false, devicePixelRatio: 1,
    layout: { padding: 0, autoPadding: false },
    plugins: { legend: { display: false }, tooltip: { enabled: false } },
    scales: {
      x: {
        type: 'linear', position: 'top', min: 1974.452, max: 2024.58,
        grid: { display: false }, border: { display: false },
        afterBuildTicks: scale => { scale.ticks = yearTickValues.map(v => ({ value: v })); },
        afterFit: scale => { scale.height = 40; },
        ticks: {
          autoSkip: false, maxRotation: 0, color: '#ff00ff', padding: -4,
          font: { family: 'Liberation Sans', size: 20, weight: 'bold' },
          callback: value => yearTickLabels[yearTickValues.indexOf(value)],
        },
      },
      y: {
        type: 'linear', position: 'right', reverse: true, min: -1.748, max: 12.86,
        grid: { display: false }, border: { display: false },
        afterBuildTicks: scale => { scale.ticks = rowNames.map((_, i) => ({ value: i })); },
        afterFit: scale => { scale.width = 897; scale.paddingTop = 0; scale.paddingBottom = 0; },
        ticks: {
          autoSkip: false, padding: 1, labelOffset: -11, color: ctx => rowNameColors[ctx.tick.value],
          font: { family: 'Liberation Sans', size: 40.5, weight: 'bold' },
          callback: value => rowNames[value],
        },
      },
    },
  },
});
</script>
</body>
</html>
